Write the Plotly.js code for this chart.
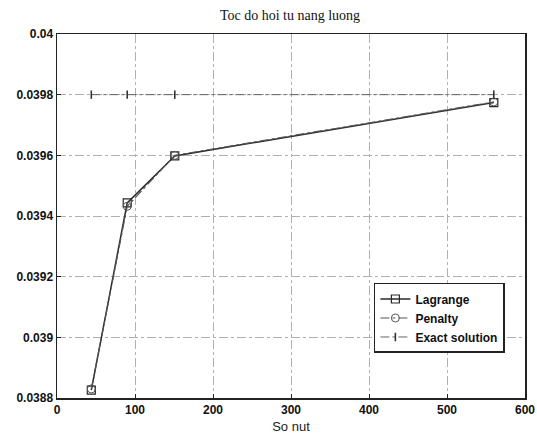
<!DOCTYPE html>
<html>
<head>
<meta charset="utf-8">
<script src="https://cdn.plot.ly/plotly-3.0.1.min.js"></script>
<style>body{margin:0;background:#fff;}#chart{width:537px;height:442px;}</style>
</head>
<body>
<div id="chart"></div>
<script>
const nodes = [44, 90, 151, 560];
const lagrange = [0.038826, 0.039443, 0.039598, 0.039774];
const penalty = [0.038830, 0.039432, 0.039600, 0.039776];
const exact = [0.0398, 0.0398, 0.0398, 0.0398];
const xTicks = [0, 100, 200, 300, 400, 500, 600];
const yTicks = [0.0388, 0.039, 0.0392, 0.0394, 0.0396, 0.0398, 0.04];
const yTickText = ['0.0388', '0.039', '0.0392', '0.0394', '0.0396', '0.0398', '0.04'];

const ink = '#2a2a2a';
const traces = [
  {x: nodes, y: lagrange, name: 'Lagrange', mode: 'lines+markers',
   line: {color: ink, width: 1.5, dash: 'solid'},
   marker: {symbol: 'square-open', size: 8, color: ink, line: {width: 1.2}}},
  {x: nodes, y: penalty, name: 'Penalty', mode: 'lines+markers',
   line: {color: '#555', width: 1.2, dash: 'dashdot'},
   marker: {symbol: 'circle-open', size: 8, color: '#555', line: {width: 1}}},
  {x: nodes, y: exact, name: 'Exact solution', mode: 'lines+markers',
   line: {color: '#666', width: 1, dash: 'dashdot'},
   marker: {symbol: 'line-ns-open', size: 6, color: '#333', line: {width: 1.6}}}
];

const sans = 'Liberation Sans, Arial, sans-serif';
const layout = {
  width: 537, height: 442,
  margin: {l: 57, r: 12, t: 34, b: 44},
  paper_bgcolor: '#fff', plot_bgcolor: '#fff',
  showlegend: true,
  title: {text: 'Toc do hoi tu nang luong', x: 0.54, xanchor: 'center', y: 0.965, yanchor: 'middle',
          font: {family: 'Liberation Serif, Times New Roman, serif', size: 14, color: '#111'}},
  xaxis: {
    range: [0, 600], tickvals: xTicks, ticktext: xTicks.map(String),
    showgrid: true, gridcolor: '#b0b0b0', griddash: 'dashdot', gridwidth: 1,
    showline: true, linecolor: '#222', linewidth: 1.5, mirror: true,
    ticks: 'inside', ticklen: 4, tickcolor: '#222', zeroline: false,
    tickfont: {family: sans, size: 12, color: '#111', weight: 'bold'},
    title: {text: 'So nut', standoff: 6, font: {family: sans, size: 13, color: '#222'}}
  },
  yaxis: {
    range: [0.0388, 0.04], tickvals: yTicks, ticktext: yTickText,
    showgrid: true, gridcolor: '#b0b0b0', griddash: 'dashdot', gridwidth: 1,
    showline: true, linecolor: '#222', linewidth: 1.5, mirror: true,
    ticks: 'inside', ticklen: 4, tickcolor: '#222', zeroline: false,
    tickfont: {family: sans, size: 12, color: '#111', weight: 'bold'}
  },
  legend: {
    x: 0.957, xanchor: 'right', y: 0.316, yanchor: 'top',
    bgcolor: '#fff', bordercolor: '#222', borderwidth: 1.5,
    font: {family: sans, size: 12, color: '#111', weight: 'bold'},
    tracegroupgap: 0, itemwidth: 30
  }
};

Plotly.newPlot('chart', traces, layout, {displayModeBar: false, staticPlot: true});
</script>
</body>
</html>
